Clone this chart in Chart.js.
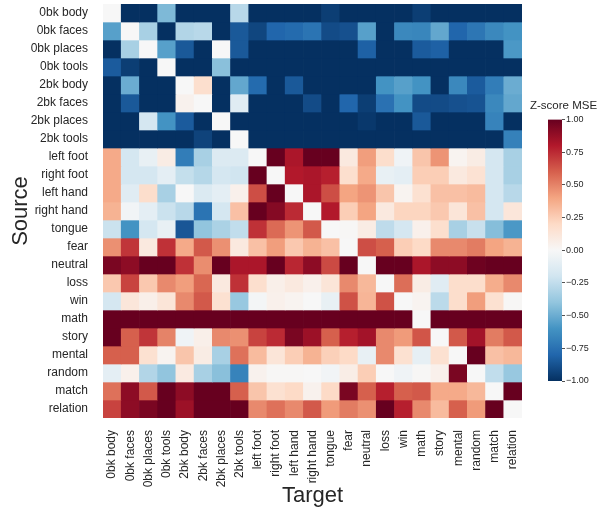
<!DOCTYPE html>
<html>
<head>
<meta charset="utf-8">
<script src="https://cdn.jsdelivr.net/npm/chart.js@4.4.0/dist/chart.umd.min.js"></script>
<style>
  html, body { margin: 0; padding: 0; background: #ffffff; }
  #wrap { position: relative; width: 601px; height: 515px; overflow: hidden; }
  #heat { position: absolute; left: 0; top: 0; width: 601px; height: 515px; }
  #cbar { position: absolute; left: 480px; top: 90px; width: 121px; height: 300px; }
</style>
</head>
<body>
<div id="wrap">
  <canvas id="heat" width="601" height="515"></canvas>
  <canvas id="cbar" width="121" height="300"></canvas>
</div>
<script>
// Task conditions (rows = source, columns = target)
const sources = ['0bk body', '0bk faces', '0bk places', '0bk tools', '2bk body', '2bk faces',
  '2bk places', '2bk tools', 'left foot', 'right foot', 'left hand', 'right hand', 'tongue',
  'fear', 'neutral', 'loss', 'win', 'math', 'story', 'mental', 'random', 'match', 'relation'];
const targets = sources.slice();

// Z-scored MSE, one array per source condition, in target order
const zBody0bk   = [0, -1, -1, -0.45, -1, -1, -1, -0.28, -1, -1, -1, -1, -0.95, -1, -1, -1, -1, -0.95, -1, -1, -1, -1, -1];
const zFaces0bk  = [-0.55, 0, -0.33, -1, -0.3, -0.28, -1, -0.85, -0.92, -0.8, -0.78, -0.74, -0.9, -0.88, -0.55, -1, -0.65, -0.66, -0.52, -0.8, -0.73, -0.65, -0.6];
const zPlaces0bk = [-1, -0.33, 0, -0.55, -0.85, -1, 0, -0.85, -1, -1, -1, -1, -1, -1, -0.82, -1, -1, -0.84, -0.82, -1, -1, -1, -0.58];
const zTools0bk  = [-0.84, -0.95, -1, 0, -1, -1, -0.42, -1, -1, -1, -1, -1, -1, -1, -1, -1, -1, -1, -1, -1, -1, -1, -1];
const zBody2bk   = [-1, -0.5, -1, -1, 0, 0.17, -1, -0.52, -0.78, -1, -0.85, -1, -1, -1, -1, -0.6, -0.55, -0.6, -1, -0.65, -0.84, -0.7, -0.5];
const zFaces2bk  = [-1, -0.85, -1, -1, 0.04, 0, -1, -0.12, -1, -1, -1, -0.9, -1, -0.8, -0.95, -0.75, -0.6, -0.9, -0.9, -0.88, -0.87, -0.65, -0.52];
const zPlaces2bk = [-1, -1, -0.18, -0.6, -0.84, -1, 0, -1, -1, -1, -1, -1, -1, -1, -0.97, -1, -1, -0.85, -1, -1, -1, -0.67, -1];
const zTools2bk  = [-1, -1, -1, -1, -1, -0.93, -1, 0, -1, -1, -1, -1, -1, -1, -1, -1, -1, -1, -1, -1, -1, -1, -0.68];
const zLeftFoot  = [0.38, -0.18, -0.08, 0.08, -0.7, -0.33, -0.14, -0.14, 0, 1, 0.82, 1, 1, 0.1, 0.42, 0.18, -0.04, 0.28, 0.45, 0.03, 0.08, -0.18, -0.33];
const zRightFoot = [0.38, -0.18, -0.18, -0.1, -0.24, -0.29, -0.18, -0.2, 1, 0, 0.8, 0.82, 0.78, 0.17, 0.38, -0.08, -0.1, 0.25, 0.25, 0.1, 0.15, -0.18, -0.33];
const zLeftHand  = [0.38, -0.12, 0.18, -0.33, 0, -0.15, -0.1, 0.05, 0.65, 1, 0, 0.82, 0.65, 0.4, 0.45, 0.28, 0.03, 0.16, 0.3, 0.3, 0.32, -0.18, -0.28];
const zRightHand = [0.35, -0.03, -0.1, -0.22, -0.28, -0.74, -0.18, 0.3, 1, 0.92, 0.75, 0, 0.8, 0.25, 0.4, 0.1, 0.22, 0.22, 0.27, 0.13, 0.3, -0.18, 0.12];
const zTongue    = [-0.22, -0.6, -0.18, -0.08, -0.86, -0.4, -0.32, -0.25, 0.73, 0.57, 0.45, 0.62, 0, 0.01, 0.08, -0.26, -0.18, 0.05, 0.17, -0.33, -0.23, -0.43, -0.58];
const zFear      = [0.46, 0.72, 0.1, 0.73, 0.38, 0.62, 0.46, 0.1, 0.3, 0.42, 0.27, 0.35, 0.3, 0, 0.65, 0.6, 0.25, 0.2, 0.48, 0.48, 0.52, 0.4, 0.35];
const zNeutral   = [0.95, 0.9, 1, 1, 0.73, 0.47, 1, 0.82, 0.82, 1, 0.76, 0.9, 0.66, 1, 0, 1, 1, 0.82, 0.9, 0.9, 0.98, 1, 1];
const zLoss      = [0.27, 0.68, 0.27, 0.48, 0.42, 0.58, 0.1, 0.73, 0.17, 0.06, 0.1, 0.05, 0.13, 0.48, 0.33, 0, 0.56, 0.08, -0.12, 0.18, 0.18, 0.37, 0.48];
const zWin       = [-0.18, 0.12, 0.06, 0.13, 0.48, 0.62, 0.16, -0.38, -0.02, 0.05, 0.03, 0, -0.08, 0.64, 0.34, 0.64, 0, 0.03, -0.27, 0.18, 0.42, 0.16, 0.01];
const zMath      = [1, 1, 1, 1, 1, 1, 1, 1, 1, 1, 1, 1, 1, 1, 1, 1, 1, 0, 1, 1, 1, 1, 1];
const zStory     = [1, 0.6, 0.72, 0.5, -0.04, 0.06, 0.48, 0.46, 0.68, 0.75, 0.95, 0.86, 0.6, 0.78, 0.84, 0.48, 0.43, 0.63, 0, 0.62, 0.84, 0.52, 0.62];
const zMental    = [0.6, 0.6, 0.16, 0.03, 0.28, 0.08, -0.33, 0.55, 0.32, 0.13, 0.25, 0.35, 0.24, 0.2, -0.08, 0.48, 0.16, -0.09, 0.16, 0, 1, 0.3, 0.33];
const zRandom    = [-0.1, 0.05, -0.3, -0.4, 0.09, -0.33, -0.42, -0.67, 0.04, 0.01, 0.01, 0, -0.03, 0.07, 0.25, 0, -0.04, 0.01, 0.05, 0.95, 0, -0.25, -0.38];
const zMatch     = [0.55, 0.9, 0.62, 1, 0.9, 1, 1, 0.6, 0.28, 0.16, 0.2, 0.04, 0.2, 0.95, 0.6, 0.78, 0.6, 0.62, 0.38, 0.38, 0.33, 0, 1];
const zRelation  = [0.68, 0.9, 0.95, 1, 0.86, 1, 1, 1, 0.48, 0.55, 0.48, 0.62, 0.43, 0.52, 0.46, 1, 0.78, 0.48, 0.32, 0.6, 0.43, 1, 0];

const zRows = [zBody0bk, zFaces0bk, zPlaces0bk, zTools0bk, zBody2bk, zFaces2bk, zPlaces2bk, zTools2bk,
  zLeftFoot, zRightFoot, zLeftHand, zRightHand, zTongue, zFear, zNeutral, zLoss, zWin,
  zMath, zStory, zMental, zRandom, zMatch, zRelation];

// Colour bar range and ticks
const cbarTicks = [-1, -0.75, -0.5, -0.25, 0, 0.25, 0.5, 0.75, 1];
const cbarTitle = 'Z-score MSE';

// Diverging red-blue map (blue = low, red = high), clipped to [-1, 1]
const rdbu = ['#053061', '#2166ac', '#4393c3', '#92c5de', '#d1e5f0', '#f7f7f7',
  '#fddbc7', '#f4a582', '#d6604d', '#b2182b', '#67001f'];
function hexRgb(h) { return [1, 3, 5].map(i => parseInt(h.slice(i, i + 2), 16)); }
const rdbuRgb = rdbu.map(hexRgb);
function zColor(v) {
  const c = Math.max(-1, Math.min(1, v));
  const t = (c + 1) / 2 * (rdbuRgb.length - 1);
  const i = Math.min(rdbuRgb.length - 2, Math.floor(t));
  const f = t - i;
  const a = rdbuRgb[i], b = rdbuRgb[i + 1];
  const m = a.map((x, k) => Math.round(x + (b[k] - x) * f));
  return `rgb(${m[0]},${m[1]},${m[2]})`;
}

const FONT = '"Liberation Sans", Arial, Helvetica, sans-serif';
Chart.defaults.font.family = FONT;
Chart.defaults.color = '#262626';

// Heat map: each source row is a dataset of floating bars spanning one row band
new Chart(document.getElementById('heat'), {
  type: 'bar',
  data: {
    labels: targets,
    datasets: zRows.map((vals, r) => ({
      label: sources[r],
      data: vals.map(() => [r - 0.5, r + 0.5]),
      backgroundColor: vals.map(zColor),
      borderWidth: 0,
      barPercentage: 1,
      categoryPercentage: 1,
      grouped: false
    }))
  },
  options: {
    responsive: false,
    animation: false,
    layout: { padding: { top: 4, right: 79, left: 0, bottom: 0 } },
    plugins: { legend: { display: false }, tooltip: { enabled: false } },
    scales: {
      x: {
        type: 'category',
        grid: { display: false },
        border: { display: false },
        ticks: { autoSkip: false, minRotation: 90, maxRotation: 90, padding: 4, font: { size: 12 } },
        title: { display: true, text: 'Target', font: { size: 22 }, padding: { top: 0, bottom: 6 } },
        afterFit(s) { s.height = 97; s.paddingLeft = 0; s.paddingRight = 0; }
      },
      y: {
        type: 'linear',
        reverse: true,
        min: -0.5,
        max: 22.5,
        grid: { display: false },
        border: { display: false },
        afterBuildTicks(s) { s.ticks = sources.map((_, i) => ({ value: i })); },
        ticks: { callback: v => sources[v], padding: 7, font: { size: 12 } },
        title: { display: true, text: 'Source', font: { size: 22 }, padding: { top: 8, bottom: 0 } },
        afterFit(s) { s.width = 103; s.paddingTop = 0; s.paddingBottom = 0; }
      }
    }
  }
});

// Colour bar: a single floating bar over the full range, filled with the same map
function cbarFill(ctx) {
  const chart = ctx.chart;
  if (!chart.chartArea) return '#f7f7f7';
  const ys = chart.scales.y;
  const g = chart.ctx.createLinearGradient(0, ys.getPixelForValue(cbarTicks[0]), 0,
    ys.getPixelForValue(cbarTicks[cbarTicks.length - 1]));
  for (let k = 0; k <= 40; k++) {
    g.addColorStop(k / 40, zColor(-1 + 2 * k / 40));
  }
  return g;
}

// Caption above the colour bar, placed from the bar's own axis
const cbarCaption = {
  id: 'cbarCaption',
  afterDraw(chart) {
    const { ctx, chartArea } = chart;
    ctx.save();
    ctx.font = `11.5px ${FONT}`;
    ctx.fillStyle = '#262626';
    ctx.textAlign = 'left';
    ctx.textBaseline = 'alphabetic';
    ctx.fillText(cbarTitle, chartArea.left - 18, chartArea.top - 10.5);
    ctx.restore();
  }
};

new Chart(document.getElementById('cbar'), {
  type: 'bar',
  data: {
    labels: ['Z'],
    datasets: [{
      data: [[cbarTicks[0], cbarTicks[cbarTicks.length - 1]]],
      backgroundColor: cbarFill,
      borderWidth: 0,
      barPercentage: 1,
      categoryPercentage: 1
    }]
  },
  plugins: [cbarCaption],
  options: {
    responsive: false,
    animation: false,
    layout: { padding: { left: 68, top: 29.5, right: 0, bottom: 9 } },
    plugins: { legend: { display: false }, tooltip: { enabled: false } },
    scales: {
      x: { display: false },
      y: {
        position: 'right',
        min: cbarTicks[0],
        max: cbarTicks[cbarTicks.length - 1],
        afterBuildTicks(s) { s.ticks = cbarTicks.map(v => ({ value: v })); },
        ticks: {
          padding: 1,
          font: { size: 9 },
          callback: v => (v < 0 ? '\u2212' : '') + Math.abs(v).toFixed(2)
        },
        grid: { drawOnChartArea: false, drawTicks: true, tickLength: 3, color: '#262626', lineWidth: 0.8 },
        border: { display: false },
        afterFit(s) { s.width = 39; }
      }
    }
  }
});
</script>
</body>
</html>
